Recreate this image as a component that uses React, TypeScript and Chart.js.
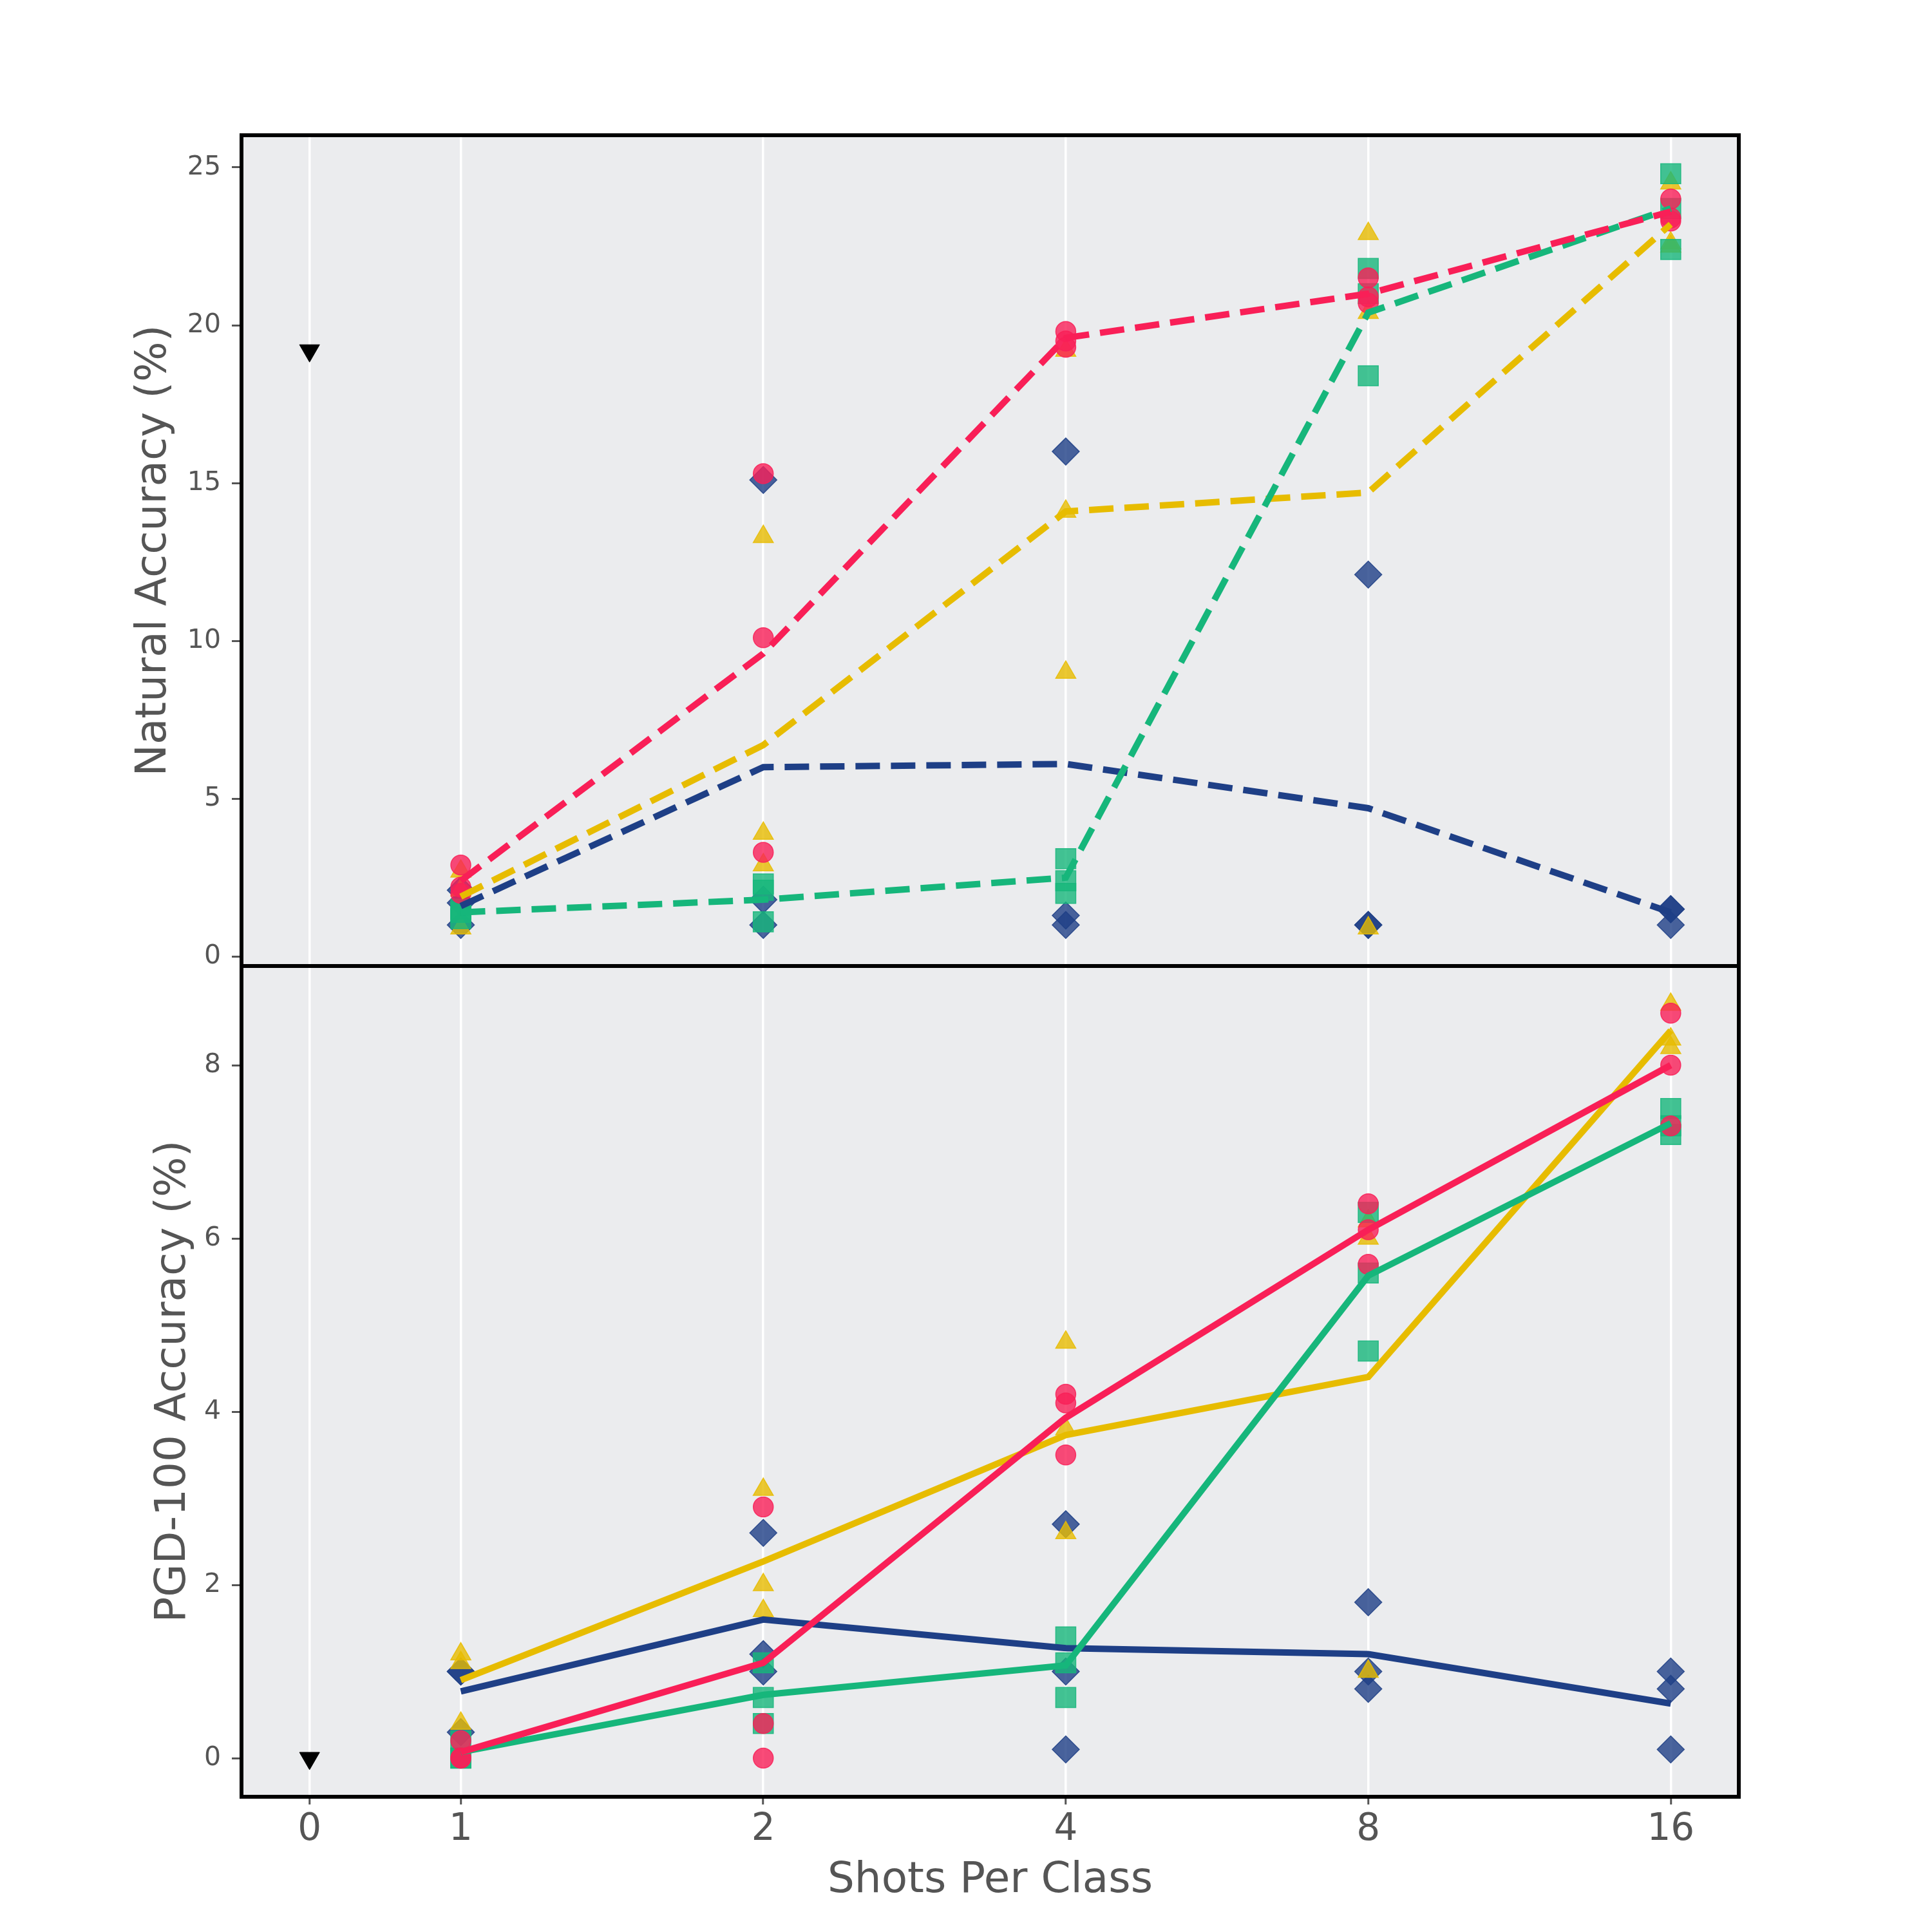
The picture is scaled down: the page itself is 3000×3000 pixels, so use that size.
import React, { useEffect, useRef } from "react";
import { Chart, registerables } from "chart.js";

Chart.register(...registerables);

// ---------- data ----------
const SHOTS = [1, 2, 4, 8, 16];
const X_TICK_POS = [-0.5, 0, 1, 2, 3, 4];
const X_TICK_LABELS = ["0", "1", "2", "4", "8", "16"];
const NAT_TICKS = [0, 5, 10, 15, 20, 25];
const PGD_TICKS = [0, 2, 4, 6, 8];

const ZERO_SHOT_X = -0.5;
const ZERO_SHOT_NAT = 19.2;
const ZERO_SHOT_PGD = 0.0;

// Natural accuracy: individual runs per shot count
const NAT_NAVY_RUNS = [[2.1, 1.7, 1.0], [15.1, 1.8, 1.0], [16.0, 1.3, 1.0], [12.1, 1.0, 1.0], [1.5, 1.5, 1.0]];
const NAT_YELLOW_RUNS = [[2.7, 2.1, 0.9], [13.3, 3.9, 2.9], [19.2, 14.1, 9.0], [22.9, 20.4, 0.9], [24.5, 22.6, 22.5]];
const NAT_GREEN_RUNS = [[1.5, 1.4, 1.2], [2.3, 2.1, 1.1], [3.1, 2.4, 2.0], [21.8, 21.0, 18.4], [24.8, 23.7, 22.4]];
const NAT_RED_RUNS = [[2.9, 2.2, 2.0], [15.3, 10.1, 3.3], [19.8, 19.5, 19.3], [21.5, 20.9, 20.7], [24.0, 23.4, 23.3]];

// Natural accuracy: mean lines
const NAT_NAVY_MEAN = [1.6, 6.0, 6.1, 4.7, 1.4];
const NAT_YELLOW_MEAN = [1.9, 6.7, 14.1, 14.7, 23.2];
const NAT_GREEN_MEAN = [1.4, 1.8, 2.5, 20.4, 23.7];
const NAT_RED_MEAN = [2.4, 9.6, 19.6, 21.0, 23.6];

// PGD-100 accuracy: individual runs per shot count
const PGD_NAVY_RUNS = [[1.0, 1.0, 0.3], [2.6, 1.2, 1.0], [2.7, 1.0, 0.1], [1.8, 1.0, 0.8], [1.0, 0.8, 0.1]];
const PGD_YELLOW_RUNS = [[1.2, 1.1, 0.4], [3.1, 2.0, 1.7], [4.8, 3.8, 2.6], [6.2, 6.0, 1.0], [8.7, 8.3, 8.2]];
const PGD_GREEN_RUNS = [[0.2, 0.0, 0.0], [1.1, 0.7, 0.4], [1.4, 1.1, 0.7], [6.3, 5.6, 4.7], [7.5, 7.3, 7.2]];
const PGD_RED_RUNS = [[0.2, 0.0, 0.0], [2.9, 0.4, 0.0], [4.2, 4.1, 3.5], [6.4, 6.1, 5.7], [8.6, 8.0, 7.3]];

// PGD-100 accuracy: mean lines
const PGD_NAVY_MEAN = [0.77, 1.6, 1.27, 1.2, 0.63];
const PGD_YELLOW_MEAN = [0.9, 2.27, 3.73, 4.4, 8.4];
const PGD_GREEN_MEAN = [0.07, 0.73, 1.07, 5.57, 7.33];
const PGD_RED_MEAN = [0.07, 1.1, 3.93, 6.1, 8.0];

// ---------- styling ----------
const NAVY = "30,63,134";
const YELLOW = "231,188,0";
const GREEN = "22,182,123";
const RED = "249,31,87";
const FONT = "'DejaVu Sans', sans-serif";
const TXT = "#555555";

const xPos = (s: number) => Math.log2(s);

function runPoints(runs: number[][]) {
  const pts: { x: number; y: number }[] = [];
  runs.forEach((vals, i) => vals.forEach((v) => pts.push({ x: xPos(SHOTS[i]), y: v })));
  return pts;
}
function linePoints(vals: number[]) {
  return vals.map((v, i) => ({ x: xPos(SHOTS[i]), y: v }));
}

function lineDs(vals: number[], rgb: string, axis: string, dashed: boolean, order: number) {
  return {
    type: "scatter" as const,
    data: linePoints(vals),
    showLine: true,
    borderColor: `rgb(${rgb})`,
    backgroundColor: `rgb(${rgb})`,
    borderWidth: 10,
    borderDash: dashed ? [38, 17] : [],
    pointRadius: 0,
    pointHoverRadius: 0,
    yAxisID: axis,
    order,
  };
}
function scatterDs(runs: number[][], rgb: string, axis: string, style: string, radius: number, order: number) {
  return {
    type: "scatter" as const,
    data: runPoints(runs),
    showLine: false,
    pointStyle: style,
    pointRadius: radius,
    pointHoverRadius: radius,
    pointBackgroundColor: `rgba(${rgb},0.8)`,
    pointBorderColor: `rgba(${rgb},0.85)`,
    pointBorderWidth: 1.5,
    yAxisID: axis,
    order,
  };
}
function zeroShotDs(y: number, axis: string) {
  return {
    type: "scatter" as const,
    data: [{ x: ZERO_SHOT_X, y }],
    showLine: false,
    pointStyle: "triangle",
    pointRotation: 180,
    pointRadius: 18,
    pointHoverRadius: 18,
    pointBackgroundColor: "#000000",
    pointBorderColor: "#000000",
    pointBorderWidth: 1,
    yAxisID: axis,
    order: 20,
  };
}

const framePlugin = {
  id: "frame",
  beforeDraw(chart: any) {
    const { ctx, chartArea } = chart;
    ctx.save();
    ctx.fillStyle = "#ebecee";
    ctx.fillRect(chartArea.left, chartArea.top, chartArea.right - chartArea.left, chartArea.bottom - chartArea.top);
    ctx.restore();
  },
  afterDraw(chart: any) {
    const { ctx, chartArea } = chart;
    const top = chart.scales.yTop;
    ctx.save();
    ctx.strokeStyle = "#000000";
    ctx.lineWidth = 6;
    ctx.strokeRect(chartArea.left, chartArea.top, chartArea.right - chartArea.left, chartArea.bottom - chartArea.top);
    ctx.beginPath();
    ctx.moveTo(chartArea.left, top.bottom);
    ctx.lineTo(chartArea.right, top.bottom);
    ctx.stroke();
    ctx.restore();
  },
};

function yAxis(min: number, max: number, ticks: number[], title: string, titlePad: number, weight: number) {
  return {
    type: "linear" as const,
    position: "left" as const,
    stack: "main",
    stackWeight: 1,
    weight,
    min,
    max,
    afterBuildTicks: (scale: any) => {
      scale.ticks = ticks.map((v) => ({ value: v }));
    },
    afterFit: (scale: any) => {
      scale.width = 375;
    },
    grid: {
      drawOnChartArea: false,
      drawTicks: true,
      tickLength: 15,
      tickColor: TXT,
      tickWidth: 3,
    },
    border: { display: false },
    ticks: {
      padding: 17,
      color: TXT,
      font: { family: FONT, size: 41 },
    },
    title: {
      display: true,
      text: title,
      color: TXT,
      font: { family: FONT, size: 66 },
      padding: { top: titlePad, bottom: 0 },
    },
  };
}

export default function App() {
  const ref = useRef<HTMLCanvasElement | null>(null);

  useEffect(() => {
    if (!ref.current) return;
    const chart = new Chart(ref.current, {
      type: "scatter",
      data: {
        datasets: [
          // top: lines
          lineDs(NAT_RED_MEAN, RED, "yTop", true, 0),
          lineDs(NAT_GREEN_MEAN, GREEN, "yTop", true, 1),
          lineDs(NAT_YELLOW_MEAN, YELLOW, "yTop", true, 2),
          lineDs(NAT_NAVY_MEAN, NAVY, "yTop", true, 3),
          // top: runs
          scatterDs(NAT_RED_RUNS, RED, "yTop", "circle", 15.5, 10),
          scatterDs(NAT_GREEN_RUNS, GREEN, "yTop", "rect", 22, 11),
          scatterDs(NAT_YELLOW_RUNS, YELLOW, "yTop", "triangle", 18, 12),
          scatterDs(NAT_NAVY_RUNS, NAVY, "yTop", "rectRot", 21, 13),
          zeroShotDs(ZERO_SHOT_NAT, "yTop"),
          // bottom: lines
          lineDs(PGD_RED_MEAN, RED, "yBot", false, 0),
          lineDs(PGD_GREEN_MEAN, GREEN, "yBot", false, 1),
          lineDs(PGD_YELLOW_MEAN, YELLOW, "yBot", false, 2),
          lineDs(PGD_NAVY_MEAN, NAVY, "yBot", false, 3),
          // bottom: runs
          scatterDs(PGD_RED_RUNS, RED, "yBot", "circle", 15.5, 10),
          scatterDs(PGD_GREEN_RUNS, GREEN, "yBot", "rect", 22, 11),
          scatterDs(PGD_YELLOW_RUNS, YELLOW, "yBot", "triangle", 18, 12),
          scatterDs(PGD_NAVY_RUNS, NAVY, "yBot", "rectRot", 21, 13),
          zeroShotDs(ZERO_SHOT_PGD, "yBot"),
        ] as any,
      },
      options: {
        responsive: false,
        maintainAspectRatio: false,
        devicePixelRatio: 1,
        animation: false,
        layout: { padding: { left: 0, top: 210, right: 300, bottom: 0 } },
        plugins: {
          legend: { display: false },
          tooltip: { enabled: false },
          title: { display: false },
        },
        scales: {
          x: {
            type: "linear",
            position: "bottom",
            min: -0.725,
            max: 4.225,
            afterBuildTicks: (scale: any) => {
              scale.ticks = X_TICK_POS.map((v) => ({ value: v }));
            },
            afterFit: (scale: any) => {
              scale.height = 210;
            },
            grid: {
              color: "#ffffff",
              lineWidth: 3.5,
              drawOnChartArea: true,
              drawTicks: true,
              tickLength: 12,
              tickColor: TXT,
              tickWidth: 3,
            },
            border: { display: false },
            ticks: {
              padding: 5,
              color: TXT,
              font: { family: FONT, size: 58 },
              maxRotation: 0,
              callback: (v: any) => {
                const i = X_TICK_POS.indexOf(Number(v));
                return i >= 0 ? X_TICK_LABELS[i] : "";
              },
            },
            title: {
              display: true,
              text: "Shots Per Class",
              color: TXT,
              font: { family: FONT, size: 66 },
              padding: { top: 0, bottom: 40 },
            },
          },
          yTop: yAxis(-0.3, 26.02, NAT_TICKS, "Natural Accuracy (%)", 200, 2),
          yBot: yAxis(-0.446, 9.145, PGD_TICKS, "PGD-100 Accuracy (%)", 230, 1),
        } as any,
      },
      plugins: [framePlugin],
    });
    return () => chart.destroy();
  }, []);

  return (
    <div style={{ position: "absolute", left: 0, top: 0, width: 3000, height: 3000, background: "#ffffff" }}>
      <canvas ref={ref} width={3000} height={3000} style={{ width: 3000, height: 3000, display: "block" }} />
    </div>
  );
}
